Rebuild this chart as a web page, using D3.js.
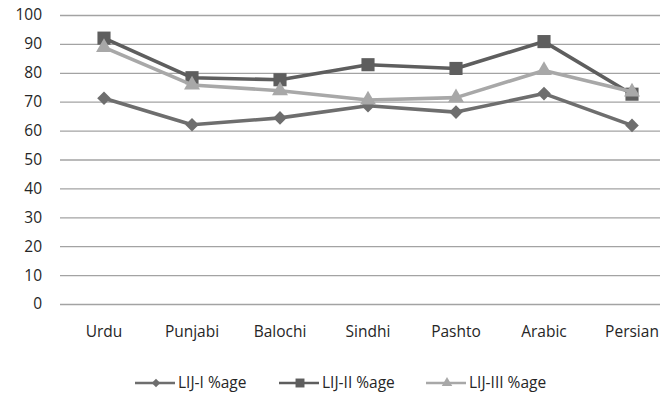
<!DOCTYPE html>
<html><head><meta charset="utf-8">
<script src="https://cdn.jsdelivr.net/npm/d3@7/dist/d3.min.js"></script>
<style>
body{margin:0;background:#fff;}
svg text{font-family:"Open Sans","Liberation Sans",sans-serif;fill:#262626;}
</style></head>
<body><svg id="c" width="660" height="396"></svg>
<script>
const categories = ["Urdu","Punjabi","Balochi","Sindhi","Pashto","Arabic","Persian"];
const seriesNames = ["LIJ-I %age","LIJ-II %age","LIJ-III %age"];
const lij1 = [71.2, 62, 64.4, 68.6, 66.4, 72.8, 61.8];
const lij2 = [92, 78.3, 77.6, 82.8, 81.5, 90.8, 72.6];
const lij3 = [88.8, 75.8, 73.8, 70.6, 71.4, 80.8, 73.4];
const yTicks = [0,10,20,30,40,50,60,70,80,90,100];

const series = [
  {name: seriesNames[0], values: lij1, color: "#6e6e6e", shape: d3.symbolSquare, rot: 45, size: 92, lsize: 36},
  {name: seriesNames[1], values: lij2, color: "#5e5e5e", shape: d3.symbolSquare, rot: 0, size: 172, lsize: 80},
  {name: seriesNames[2], values: lij3, color: "#a8a8a8", shape: d3.symbolTriangle, rot: 0, size: 110, lsize: 48}
];

const svg = d3.select("#c");
const x = d3.scaleBand().domain(categories).range([60, 676]);
const y = d3.scaleLinear().domain([0,100]).range([304, 15]);

// gridlines
const yAxis = d3.axisLeft(y).tickValues(yTicks).tickSize(-616).tickPadding(18);
const gy = svg.append("g").attr("transform","translate(60,0)").call(yAxis);
gy.select(".domain").remove();
gy.selectAll(".tick line").attr("stroke","#a3a3a3").attr("stroke-width",1.3);
gy.selectAll(".tick text").attr("font-size","15.5px").attr("fill","#262626");

// x axis labels
const xAxis = d3.axisBottom(x).tickSize(0).tickPadding(0);
const gx = svg.append("g").attr("transform","translate(0,326)").call(xAxis);
gx.select(".domain").remove();
gx.selectAll(".tick text").attr("font-size","15.5px").attr("fill","#262626").attr("dy","0.71em");

const line = d3.line().x((d,i)=>x(categories[i]) + x.bandwidth()/2).y(d=>y(d));

series.forEach((s)=>{
  const g = svg.append("g");
  g.append("path").attr("d", line(s.values)).attr("fill","none")
    .attr("stroke", s.color).attr("stroke-width",3.6).attr("stroke-linejoin","round");
  g.append("g").selectAll("path").data(s.values).join("path")
    .attr("transform",(d,i)=>`translate(${x(categories[i]) + x.bandwidth()/2},${y(d)}) rotate(${s.rot})`)
    .attr("d", d3.symbol().type(s.shape).size(s.size))
    .attr("fill", s.color);
});

// legend
const legendX = [135, 279, 426];
const lg = svg.append("g");
series.forEach((s,i)=>{
  const g = lg.append("g").attr("transform",`translate(${legendX[i]},383)`);
  g.append("line").attr("x1",0).attr("x2",40).attr("y1",0).attr("y2",0)
    .attr("stroke",s.color).attr("stroke-width",2.6);
  g.append("path").attr("transform",`translate(21,0) rotate(${s.rot})`)
    .attr("d", d3.symbol().type(s.shape).size(s.lsize)).attr("fill",s.color);
  g.append("text").attr("x",43).attr("y",0).attr("dy","0.35em")
    .attr("font-size","15.5px").text(s.name);
});
</script></body></html>
